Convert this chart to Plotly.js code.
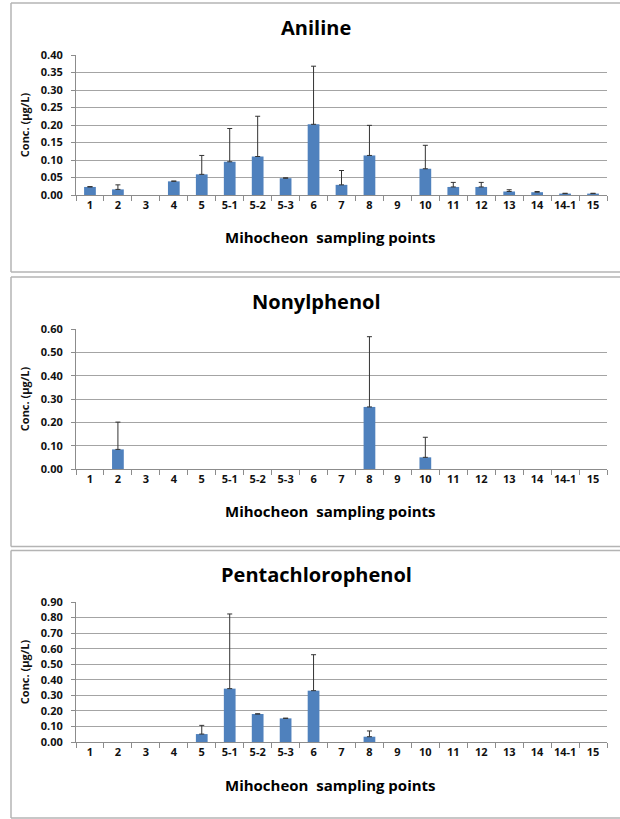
<!DOCTYPE html>
<html>
<head>
<meta charset="utf-8">
<script src="https://cdn.plot.ly/plotly-3.0.1.min.js"></script>
<style>
html,body{margin:0;padding:0;background:#fff;}
#chart{width:620px;height:819px;}
</style>
</head>
<body>
<div id="chart"></div>
<script>
var categories = ["1","2","3","4","5","5-1","5-2","5-3","6","7","8","9","10","11","12","13","14","14-1","15"];

var anilineMean = [0.023,0.016,0,0.039,0.059,0.095,0.110,0.048,0.202,0.029,0.113,0,0.075,0.023,0.023,0.010,0.008,0.004,0.004];
var anilineSD   = [0.001,0.013,0,0.001,0.054,0.095,0.115,0.001,0.166,0.041,0.086,0,0.067,0.013,0.013,0.005,0.002,0.001,0.001];

var nonylMean = [0,0.084,0,0,0,0,0,0,0,0,0.266,0,0.050,0,0,0,0,0,0];
var nonylSD   = [0,0.117,0,0,0,0,0,0,0,0,0.301,0,0.086,0,0,0,0,0,0];

var pcpMean = [0,0,0,0,0.051,0.343,0.180,0.152,0.330,0,0.034,0,0,0,0,0,0,0,0];
var pcpSD   = [0,0,0,0,0.056,0.480,0.001,0.001,0.231,0,0.037,0,0,0,0,0,0,0,0];

var titles = ["Aniline","Nonylphenol","Pentachlorophenol"];
var yTickVals = [
  [0,0.05,0.10,0.15,0.20,0.25,0.30,0.35,0.40],
  [0,0.10,0.20,0.30,0.40,0.50,0.60],
  [0,0.10,0.20,0.30,0.40,0.50,0.60,0.70,0.80,0.90]
];
var yMax = [0.40,0.60,0.90];
var xTitle = "Mihocheon\u00a0 sampling points";
var yTitle = "Conc. (\u03bcg/L)";

var W = 620, H = 819;
function fy(px){ return 1 - px/H; }

var panels = [
  {zero:195, top:55,  title:28,  xt:237, bt:3,     bb:272},
  {zero:469, top:329, title:301, xt:511, bt:277,   bb:546.5},
  {zero:742, top:602, title:574, xt:785, bt:550.5, bb:818}
];

var means = [anilineMean, nonylMean, pcpMean];
var sds = [anilineSD, nonylSD, pcpSD];

var data = [];
var layout = {
  width: W, height: H,
  margin: {l:0, r:0, t:0, b:0},
  paper_bgcolor: "#ffffff",
  plot_bgcolor: "#ffffff",
  showlegend: false,
  bargap: 0.58,
  font: {family: "Open Sans, sans-serif", color: "#111111"},
  annotations: [],
  shapes: []
};

var tickFont = {family: "Open Sans, sans-serif", size: 11, color: "#111111", weight: "bold"};

for (var i = 0; i < 3; i++) {
  var sfx = i === 0 ? "" : String(i+1);
  var m = means[i];
  // non-detected points (0) get no bar and no error bar
  var yPlot = m.map(function(v){ return v === 0 ? null : v; });
  var errPlus = sds[i].map(function(v, k){ return m[k] === 0 ? null : v; });
  var errMinus = m.map(function(v){ return v === 0 ? null : 0; });
  data.push({
    type: "bar",
    x: categories,
    y: yPlot,
    xaxis: "x" + sfx,
    yaxis: "y" + sfx,
    marker: {color: "#4f81bd", line: {width: 0}},
    error_y: {type: "data", symmetric: false, array: errPlus, arrayminus: errMinus,
              color: "#333333", thickness: 1, width: 2.5},
    hoverinfo: "x+y"
  });
  var p = panels[i];
  layout["xaxis" + sfx] = {
    domain: [76/W, 607/W],
    anchor: "y" + sfx,
    type: "category",
    categoryorder: "array",
    categoryarray: categories,
    tickson: "boundaries",
    ticks: "outside",
    ticklen: 5,
    tickcolor: "#8c8c8c",
    tickangle: 0,
    showline: true,
    linecolor: "#8c8c8c",
    linewidth: 1,
    showgrid: false,
    tickfont: tickFont,
    ticklabelstandoff: 0,
    range: [-0.5, categories.length - 0.5],
    fixedrange: true
  };
  layout["yaxis" + sfx] = {
    domain: [fy(p.zero), fy(p.top)],
    anchor: "x" + sfx,
    range: [0, yMax[i]],
    tickvals: yTickVals[i],
    tickformat: ".2f",
    ticks: "outside",
    ticklen: 4,
    tickcolor: "#8c8c8c",
    showline: true,
    linecolor: "#8c8c8c",
    linewidth: 1,
    showgrid: true,
    gridcolor: "#a4a4a4",
    gridwidth: 1,
    zeroline: false,
    tickfont: tickFont,
    ticklabelstandoff: 6,
    title: {text: yTitle, font: {family: "Open Sans, sans-serif", size: 11, color: "#111111", weight: "bold"}, standoff: 8},
    fixedrange: true
  };
  layout.annotations.push({
    xref: "paper", yref: "paper", x: 316/W, y: fy(p.title),
    xanchor: "center", yanchor: "middle", showarrow: false,
    text: titles[i],
    font: {family: "Open Sans, sans-serif", size: 20, color: "#000000", weight: "bold"}
  });
  layout.annotations.push({
    xref: "paper", yref: "paper", x: 331/W, y: fy(p.xt),
    xanchor: "center", yanchor: "middle", showarrow: false,
    text: xTitle,
    font: {family: "Open Sans, sans-serif", size: 15, color: "#000000", weight: "bold"}
  });
  var border = {color: "#b4b4b4", width: 1.5};
  layout.shapes.push({type:"line", xref:"paper", yref:"paper", x0:11/W, x1:1.02, y0:fy(p.bt), y1:fy(p.bt), line:border});
  layout.shapes.push({type:"line", xref:"paper", yref:"paper", x0:11/W, x1:1.02, y0:fy(p.bb), y1:fy(p.bb), line:border});
  layout.shapes.push({type:"line", xref:"paper", yref:"paper", x0:11/W, x1:11/W, y0:fy(p.bt), y1:fy(p.bb), line:border});
}

Plotly.newPlot("chart", data, layout, {staticPlot: true, displayModeBar: false});
</script>
</body>
</html>
